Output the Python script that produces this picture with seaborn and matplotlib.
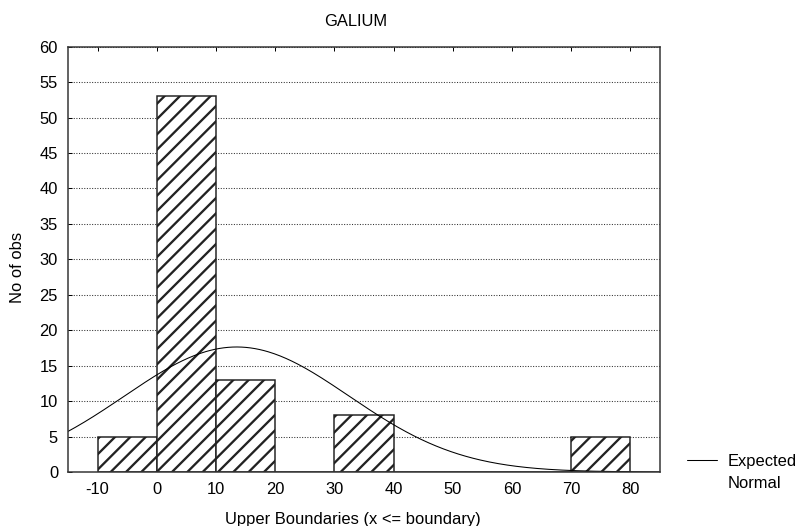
import numpy as np
import pandas as pd
import matplotlib
matplotlib.use("Agg")
import matplotlib.pyplot as plt
import seaborn as sns

# Histogram bins (upper boundaries) and counts
bin_edges = [-10, 0, 10, 20, 30, 40, 50, 60, 70, 80]
counts = [5, 53, 13, 0, 8, 0, 0, 0, 5]
bin_mids = [-5, 5, 15, 25, 35, 45, 55, 65, 75]

# Fitted normal parameters for the expected-frequency curve
n_obs = sum(counts)
bin_width = 10
fit_mean = 13.5
fit_sd = 19.0

x_ticks = [-10, 0, 10, 20, 30, 40, 50, 60, 70, 80]
y_ticks = list(range(0, 61, 5))

DPI = 138
W, H = 797, 526


def pt(px):
    """Convert a pixel size to points at the figure resolution."""
    return px * 72.0 / DPI


FS = pt(16.5)

sns.set_style("white")
plt.rcParams["font.family"] = ["Liberation Sans", "DejaVu Sans"]
plt.rcParams["axes.unicode_minus"] = False
plt.rcParams["hatch.linewidth"] = pt(2.3)
plt.rcParams["hatch.color"] = "black"
plt.rcParams["text.color"] = "black"
plt.rcParams["axes.labelcolor"] = "black"
plt.rcParams["axes.titlecolor"] = "black"

fig = plt.figure(figsize=(W / DPI, H / DPI), dpi=DPI)
ax = fig.add_axes([68 / W, 1 - 472 / H, (660 - 68) / W, (472 - 46.7) / H])

hist_df = pd.DataFrame({"mid": bin_mids, "count": counts})
sns.histplot(data=hist_df, x="mid", weights="count", bins=bin_edges, ax=ax,
             stat="count", color="white", alpha=1, edgecolor="#222222",
             linewidth=pt(1.5), hatch="///")

xs = np.linspace(-15, 85, 400)
expected = n_obs * bin_width / (fit_sd * np.sqrt(2 * np.pi)) * np.exp(-0.5 * ((xs - fit_mean) / fit_sd) ** 2)
curve_df = pd.DataFrame({"x": xs, "y": expected})
sns.lineplot(data=curve_df, x="x", y="y", ax=ax, color="black", linewidth=pt(1.05),
             label="Expected", legend=False)

ax.set_xlim(-15, 85)
ax.set_ylim(0, 60)
ax.set_xticks(x_ticks)
ax.set_yticks(y_ticks)
ax.tick_params(axis="both", which="both", direction="in", length=pt(4), width=pt(1),
               top=True, right=False, left=True, labelsize=FS, pad=pt(10), colors="black")
ax.yaxis.grid(True, linestyle=(0, (1, 1.5)), color="#333333", linewidth=pt(1.05))
ax.xaxis.grid(False)
ax.set_axisbelow(True)
for sp in ax.spines.values():
    sp.set_color("#333333")
    sp.set_linewidth(pt(1.5))

ax.set_xlabel("Upper Boundaries (x <= boundary)", fontsize=FS)
ax.xaxis.set_label_coords(0.481, -0.095)
ax.set_ylabel("No of obs", fontsize=FS)
ax.yaxis.set_label_coords(-0.073, 0.482)
ax.set_title("GALIUM", fontsize=FS, x=0.486, pad=pt(21))

handles, labels = ax.get_legend_handles_labels()
leg = fig.legend(handles, labels, loc="upper left", bbox_to_anchor=(687 / W, 1 - 454 / H),
                 frameon=False, fontsize=FS, handlelength=30 / 16.5, handletextpad=11 / 16.5,
                 borderaxespad=0, borderpad=0)
fig.text(728 / W, 1 - 483 / H, "Normal", fontsize=FS, va="center", ha="left")

fig.savefig("out.png", dpi=DPI)
